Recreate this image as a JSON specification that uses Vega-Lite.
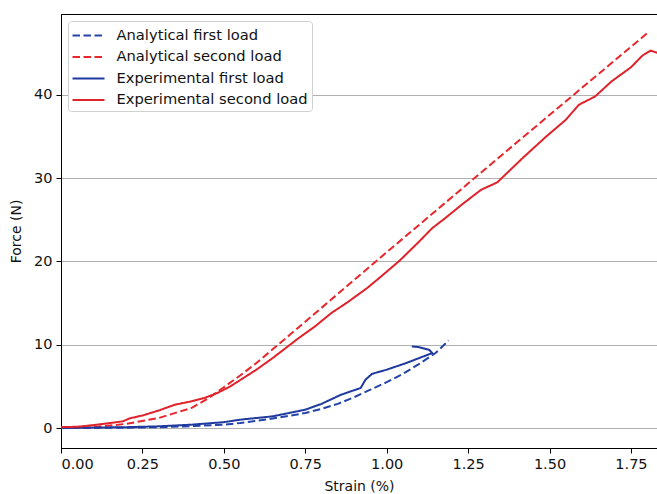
{
  "$schema": "https://vega.github.io/schema/vega-lite/v6.json",
  "width": 596,
  "height": 434,
  "autosize": {"type": "none"},
  "padding": {"left": 61, "top": 14, "right": 0, "bottom": 46},
  "background": "white",
  "config": {
    "font": "DejaVu Sans",
    "view": {"stroke": "black", "strokeWidth": 1},
    "axis": {
      "labelFont": "DejaVu Sans",
      "titleFont": "DejaVu Sans",
      "labelFontSize": 14.5,
      "titleFontSize": 14,
      "titleFontWeight": "normal",
      "labelColor": "#111",
      "titleColor": "#111",
      "domainColor": "black",
      "tickColor": "black",
      "tickSize": 5,
      "labelPadding": 4,
      "gridColor": "#b0b0b0",
      "gridWidth": 1
    },
    "legend": {
      "labelFont": "DejaVu Sans",
      "labelFontSize": 14.7,
      "labelColor": "#111",
      "labelLimit": 400
    }
  },
  "data": {
    "values": [
      {"s": "Analytical first load", "i": 0, "x": 0, "y": 0},
      {"s": "Analytical first load", "i": 1, "x": 0.1, "y": 0.01},
      {"s": "Analytical first load", "i": 2, "x": 0.2, "y": 0.04},
      {"s": "Analytical first load", "i": 3, "x": 0.3, "y": 0.1},
      {"s": "Analytical first load", "i": 4, "x": 0.4, "y": 0.22},
      {"s": "Analytical first load", "i": 5, "x": 0.5, "y": 0.4},
      {"s": "Analytical first load", "i": 6, "x": 0.55, "y": 0.6},
      {"s": "Analytical first load", "i": 7, "x": 0.6, "y": 0.85},
      {"s": "Analytical first load", "i": 8, "x": 0.65, "y": 1.15},
      {"s": "Analytical first load", "i": 9, "x": 0.7, "y": 1.45},
      {"s": "Analytical first load", "i": 10, "x": 0.75, "y": 1.8},
      {"s": "Analytical first load", "i": 11, "x": 0.8, "y": 2.3},
      {"s": "Analytical first load", "i": 12, "x": 0.85, "y": 2.9},
      {"s": "Analytical first load", "i": 13, "x": 0.9, "y": 3.7},
      {"s": "Analytical first load", "i": 14, "x": 0.95, "y": 4.6},
      {"s": "Analytical first load", "i": 15, "x": 1.0, "y": 5.5},
      {"s": "Analytical first load", "i": 16, "x": 1.05, "y": 6.5},
      {"s": "Analytical first load", "i": 17, "x": 1.1, "y": 7.7},
      {"s": "Analytical first load", "i": 18, "x": 1.15, "y": 9.0},
      {"s": "Analytical first load", "i": 19, "x": 1.19, "y": 10.5},

      {"s": "Analytical second load", "i": 0, "x": 0, "y": 0},
      {"s": "Analytical second load", "i": 1, "x": 0.1, "y": 0.1},
      {"s": "Analytical second load", "i": 2, "x": 0.2, "y": 0.5},
      {"s": "Analytical second load", "i": 3, "x": 0.3, "y": 1.2},
      {"s": "Analytical second load", "i": 4, "x": 0.4, "y": 2.4},
      {"s": "Analytical second load", "i": 5, "x": 0.45, "y": 3.5},
      {"s": "Analytical second load", "i": 6, "x": 0.5, "y": 4.9},
      {"s": "Analytical second load", "i": 7, "x": 0.55, "y": 6.3},
      {"s": "Analytical second load", "i": 8, "x": 0.6, "y": 7.8},
      {"s": "Analytical second load", "i": 9, "x": 0.7, "y": 11.1},
      {"s": "Analytical second load", "i": 10, "x": 1.0, "y": 21.1},
      {"s": "Analytical second load", "i": 11, "x": 1.4, "y": 34.3},
      {"s": "Analytical second load", "i": 12, "x": 1.8, "y": 47.4},

      {"s": "Experimental first load", "i": 0, "x": 0, "y": 0},
      {"s": "Experimental first load", "i": 1, "x": 0.1, "y": 0.05},
      {"s": "Experimental first load", "i": 2, "x": 0.2, "y": 0.1},
      {"s": "Experimental first load", "i": 3, "x": 0.3, "y": 0.2},
      {"s": "Experimental first load", "i": 4, "x": 0.4, "y": 0.4},
      {"s": "Experimental first load", "i": 5, "x": 0.5, "y": 0.7},
      {"s": "Experimental first load", "i": 6, "x": 0.55, "y": 1.0},
      {"s": "Experimental first load", "i": 7, "x": 0.6, "y": 1.2},
      {"s": "Experimental first load", "i": 8, "x": 0.65, "y": 1.4},
      {"s": "Experimental first load", "i": 9, "x": 0.7, "y": 1.8},
      {"s": "Experimental first load", "i": 10, "x": 0.75, "y": 2.2},
      {"s": "Experimental first load", "i": 11, "x": 0.8, "y": 2.9},
      {"s": "Experimental first load", "i": 12, "x": 0.86, "y": 4.0},
      {"s": "Experimental first load", "i": 13, "x": 0.92, "y": 4.8},
      {"s": "Experimental first load", "i": 14, "x": 0.935, "y": 5.8},
      {"s": "Experimental first load", "i": 15, "x": 0.955, "y": 6.5},
      {"s": "Experimental first load", "i": 16, "x": 1.0, "y": 7.0},
      {"s": "Experimental first load", "i": 17, "x": 1.06, "y": 7.8},
      {"s": "Experimental first load", "i": 18, "x": 1.12, "y": 8.7},
      {"s": "Experimental first load", "i": 19, "x": 1.14, "y": 9.0},
      {"s": "Experimental first load", "i": 20, "x": 1.13, "y": 9.4},
      {"s": "Experimental first load", "i": 21, "x": 1.1, "y": 9.7},
      {"s": "Experimental first load", "i": 22, "x": 1.077, "y": 9.8},

      {"s": "Experimental second load", "i": 0, "x": 0, "y": 0.1},
      {"s": "Experimental second load", "i": 1, "x": 0.05, "y": 0.15},
      {"s": "Experimental second load", "i": 2, "x": 0.1, "y": 0.35},
      {"s": "Experimental second load", "i": 3, "x": 0.15, "y": 0.6},
      {"s": "Experimental second load", "i": 4, "x": 0.19, "y": 0.8},
      {"s": "Experimental second load", "i": 5, "x": 0.21, "y": 1.15},
      {"s": "Experimental second load", "i": 6, "x": 0.25, "y": 1.5},
      {"s": "Experimental second load", "i": 7, "x": 0.3, "y": 2.1},
      {"s": "Experimental second load", "i": 8, "x": 0.35, "y": 2.8},
      {"s": "Experimental second load", "i": 9, "x": 0.4, "y": 3.2},
      {"s": "Experimental second load", "i": 10, "x": 0.44, "y": 3.6},
      {"s": "Experimental second load", "i": 11, "x": 0.48, "y": 4.2},
      {"s": "Experimental second load", "i": 12, "x": 0.52, "y": 5.0},
      {"s": "Experimental second load", "i": 13, "x": 0.56, "y": 6.0},
      {"s": "Experimental second load", "i": 14, "x": 0.6, "y": 7.0},
      {"s": "Experimental second load", "i": 15, "x": 0.65, "y": 8.4},
      {"s": "Experimental second load", "i": 16, "x": 0.7, "y": 9.9},
      {"s": "Experimental second load", "i": 17, "x": 0.73, "y": 10.8},
      {"s": "Experimental second load", "i": 18, "x": 0.78, "y": 12.2},
      {"s": "Experimental second load", "i": 19, "x": 0.83, "y": 13.8},
      {"s": "Experimental second load", "i": 20, "x": 0.88, "y": 15.1},
      {"s": "Experimental second load", "i": 21, "x": 0.94, "y": 16.8},
      {"s": "Experimental second load", "i": 22, "x": 0.98, "y": 18.1},
      {"s": "Experimental second load", "i": 23, "x": 1.04, "y": 20.1},
      {"s": "Experimental second load", "i": 24, "x": 1.1, "y": 22.4},
      {"s": "Experimental second load", "i": 25, "x": 1.14, "y": 24.0},
      {"s": "Experimental second load", "i": 26, "x": 1.18, "y": 25.2},
      {"s": "Experimental second load", "i": 27, "x": 1.23, "y": 26.8},
      {"s": "Experimental second load", "i": 28, "x": 1.29, "y": 28.6},
      {"s": "Experimental second load", "i": 29, "x": 1.34, "y": 29.5},
      {"s": "Experimental second load", "i": 30, "x": 1.38, "y": 31.0},
      {"s": "Experimental second load", "i": 31, "x": 1.42, "y": 32.5},
      {"s": "Experimental second load", "i": 32, "x": 1.49, "y": 35.0},
      {"s": "Experimental second load", "i": 33, "x": 1.55, "y": 37.0},
      {"s": "Experimental second load", "i": 34, "x": 1.59, "y": 38.8},
      {"s": "Experimental second load", "i": 35, "x": 1.64, "y": 39.8},
      {"s": "Experimental second load", "i": 36, "x": 1.69, "y": 41.6},
      {"s": "Experimental second load", "i": 37, "x": 1.75, "y": 43.3},
      {"s": "Experimental second load", "i": 38, "x": 1.785, "y": 44.7},
      {"s": "Experimental second load", "i": 39, "x": 1.81, "y": 45.3},
      {"s": "Experimental second load", "i": 40, "x": 1.835, "y": 45.0}
    ]
  },
  "mark": {"type": "line", "strokeWidth": 2, "clip": true},
  "encoding": {
    "x": {
      "field": "x", "type": "quantitative",
      "scale": {"domain": [0, 1.83], "nice": false, "zero": false},
      "axis": {"values": [0, 0.25, 0.5, 0.75, 1.0, 1.25, 1.5, 1.75], "format": ".2f", "grid": false, "title": "Strain (%)", "titlePadding": 9}
    },
    "y": {
      "field": "y", "type": "quantitative",
      "scale": {"domain": [-2.4, 49.7], "nice": false, "zero": false},
      "axis": {"values": [0, 10, 20, 30, 40], "grid": true, "title": "Force (N)", "titlePadding": 10}
    },
    "color": {
      "field": "s", "type": "nominal",
      "scale": {
        "domain": ["Analytical first load", "Analytical second load", "Experimental first load", "Experimental second load"],
        "range": ["#2444a8", "#e8262b", "#1f3a9e", "#e0222a"]
      },
      "legend": {
        "title": null,
        "orient": "top-left",
        "offset": 7,
        "symbolType": "M -1 0 L 2.2 0",
        "symbolSize": 400,
        "symbolStrokeWidth": 2,
        "labelOffset": 23,
        "rowPadding": 3.5,
        "padding": 3.5,
        "strokeColor": "#d0d0d0",
        "fillColor": "white",
        "cornerRadius": 3
      }
    },
    "strokeDash": {
      "field": "s", "type": "nominal",
      "scale": {
        "domain": ["Analytical first load", "Analytical second load", "Experimental first load", "Experimental second load"],
        "range": [[7.5, 3.5], [7.5, 3.5], [1, 0], [1, 0]]
      },
      "legend": null
    },
    "order": {"field": "i", "type": "quantitative"}
  }
}
